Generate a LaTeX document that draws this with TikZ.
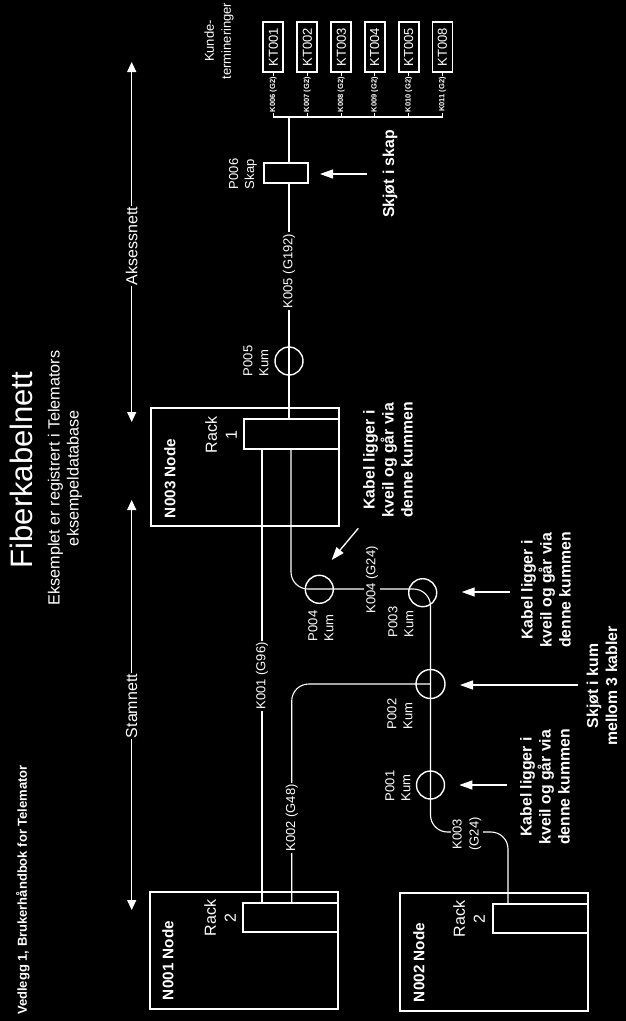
\documentclass[tikz,border=0pt]{standalone}
\usepackage{fontspec}
\usepackage{graphicx}
\setmainfont{Liberation Sans}
\usetikzlibrary{arrows.meta}
\newcommand{\myfs}[2]{\fontsize{#1pt}{#2pt}\selectfont}
\begin{document}
\begin{tikzpicture}[x=1pt,y=-1pt,
  every node/.style={text=white,inner sep=0pt,outer sep=0pt},
  rt/.style={rotate=90},
  nbox/.style={draw=white,line width=1.8pt,minimum width=188pt,minimum height=118pt},
  rbox/.style={draw=white,line width=1.5pt,minimum width=95pt,minimum height=29pt},
  ktbox/.style={draw=white,line width=1.8pt,minimum width=20pt,minimum height=50pt,font=\myfs{13}{15}},
  kum/.style={draw=white,circle,line width=1.4pt,minimum size=28pt},
  cable/.style={draw=white,line width=1.1pt},
  trunk/.style={draw=white,line width=1.7pt},
  arr/.style={draw=white,line width=1.3pt,-{Triangle[length=13pt,width=9pt]}},
  darr/.style={draw=white,line width=1.3pt,-{Triangle[length=10pt,width=9pt]}},
  clbl/.style={rotate=90,fill=black,inner sep=1.5pt,font=\myfs{13}{15}},
  klbl/.style={rotate=90,fill=black,inner sep=0.8pt,font=\bfseries\myfs{7.5}{9}},
  plbl/.style={rotate=90,anchor=west,align=left,font=\myfs{13}{16}},
  ann/.style={rotate=90,align=center,font=\bfseries\myfs{15.8}{19}},
  nname/.style={rotate=90,anchor=west,font=\bfseries\myfs{15.3}{18}},
  racktxt/.style={rotate=90,align=center,font=\myfs{16}{20}},
]
\fill[black] (0,0) rectangle (626,1021);
\useasboundingbox (0,0) rectangle (626,1021);

% headings
\node[rt,font=\myfs{31}{36}] (title) at (21.5,470) {Fiberkabelnett};
\node[rt,align=center,font=\myfs{16.2}{19}] (sub) at (65,478) {Eksemplet er registrert i Telemators\\eksempeldatabase};
\node[rt,font=\bfseries\myfs{13}{15}] (vedlegg) at (23,890) {Vedlegg 1, Brukerhåndbok for Telemator};

% network sections
\node[rt,font=\myfs{16}{19},inner sep=1pt] (aks) at (131.7,246) {Aksessnett};
\coordinate (aksT) at (131.7,62);
\coordinate (aksB) at (131.7,422);
\draw[darr] (aks.east) -- (aksT);
\draw[darr] (aks.west) -- (aksB);
\node[rt,font=\myfs{16}{19},inner sep=1pt] (stam) at (131.7,706) {Stamnett};
\coordinate (stT) at (131.7,500);
\coordinate (stB) at (131.7,910);
\draw[darr] (stam.east) -- (stT);
\draw[darr] (stam.west) -- (stB);

% customer terminations
\node[rt,align=center,font=\myfs{13}{17}] (kunde) at (219,41) {Kunde-\\termineringer};
\node[ktbox] (kt1) at (273.3,47) {\rotatebox{90}{KT001}};
\node[ktbox] (kt2) at (307.3,47) {\rotatebox{90}{KT002}};
\node[ktbox] (kt3) at (341.3,47) {\rotatebox{90}{KT003}};
\node[ktbox] (kt4) at (374.7,47) {\rotatebox{90}{KT004}};
\node[ktbox] (kt5) at (408.7,47) {\rotatebox{90}{KT005}};
\node[ktbox] (kt6) at (442.5,47) {\rotatebox{90}{KT008}};
\coordinate (bus) at (289,117);
\draw[trunk] (kt1.south |- bus) -- (kt6.south |- bus);
\foreach \i/\k in {1/K006,2/K007,3/K008,4/K009,5/K010,6/K011}
  \draw[cable] (kt\i.south) -- node[klbl]{\k\ (G2)} (kt\i.south |- bus);

% P006 cabinet
\node[draw=white,line width=1.5pt,minimum width=44pt,minimum height=20pt] (p006) at (286,173) {};
\node[plbl] (p006t) at (243,189) {P006\\Skap};
\draw[trunk] (bus) -- (bus |- p006.north);

% node boxes
\node[nbox] (n003) at (245,467) {};
\node[rbox,minimum height=30pt] (rack1) at (291.5,434) {};
\node[nname] (n003t) at (170,518) {N003 Node};
\node[racktxt] (rack1t) at (221,435) {Rack\\1};

\node[nbox,minimum height=117pt] (n001) at (244,950.5) {};
\node[rbox] (rack2a) at (290.5,917.5) {};
\node[nname] (n001t) at (168,1000) {N001 Node};
\node[racktxt] (rack2at) at (220,918) {Rack\\2};

\node[nbox] (n002) at (494,952) {};
\node[rbox] (rack2b) at (540.5,918.5) {};
\node[nname] (n002t) at (419,1002) {N002 Node};
\node[racktxt] (rack2bt) at (469,919) {Rack\\2};

% manholes
\node[kum] (p005) at (289,361) {};
\node[plbl] (p005t) at (256,376) {P005\\Kum};
\node[kum] (p004) at (319.3,589.3) {};
\node[plbl] (p004t) at (321,641) {P004\\Kum};
\node[kum] (p003) at (422.7,592.7) {};
\node[plbl] (p003t) at (401,637) {P003\\Kum};
\node[kum,minimum size=29pt] (p002) at (430.5,684) {};
\node[plbl] (p002t) at (400,729) {P002\\Kum};
\node[kum] (p001) at (430.5,785) {};
\node[plbl] (p001t) at (398,801) {P001\\Kum};

% cables
\draw[trunk] (bus |- p006.south) -- node[pos=0.373,clbl]{K005 (G192)} (bus |- rack1.north);
\coordinate (k1x) at (262,0);
\draw[cable] (rack1.south -| k1x) -- node[clbl]{K001 (G96)} (rack2a.north -| k1x);
\coordinate (k2x) at (291.7,0);
\draw[cable,rounded corners=17pt] (rack2a.north -| k2x) |- (p002.center);
\node[clbl] (k002t) at (291.7,818) {K002 (G48)};
\coordinate (cA) at (291,589);
\coordinate (cB) at (430.5,589);
\coordinate (cC) at (508,832);
\draw[cable,rounded corners=17pt] (rack1.south -| cA) |- (cB) -- (cB |- cC) -- (cC) -- (rack2b.north -| cC);
\node[clbl] (k004t) at (372,580) {K004 (G24)};
\node[clbl,align=center,font=\myfs{13}{17}] (k003t) at (467,834) {K003\\(G24)};

% annotations
\node[ann] (ann6) at (390,174) {Skjøt i skap};
\coordinate (a6s) at (367,174); \coordinate (a6e) at (320,174);
\draw[arr] (a6s) -- (a6e);
\node[ann] (ann4) at (388,460) {Kabel ligger i\\kveil og går via\\denne kummen};
\coordinate (a4s) at (358.3,528.3); \coordinate (a4e) at (331.7,560);
\draw[arr] (a4s) -- (a4e);
\node[ann] (ann3) at (546,590) {Kabel ligger i\\kveil og går via\\denne kummen};
\coordinate (a3s) at (510,592); \coordinate (a3e) at (461.7,592);
\draw[arr] (a3s) -- (a3e);
\node[ann] (ann2) at (602,686) {Skjøt i kum\\mellom 3 kabler};
\coordinate (a2s) at (578,685); \coordinate (a2e) at (460,685);
\draw[arr] (a2s) -- (a2e);
\node[ann] (ann1) at (545,787) {Kabel ligger i\\kveil og går via\\denne kummen};
\coordinate (a1s) at (506.7,785); \coordinate (a1e) at (459.3,785);
\draw[arr] (a1s) -- (a1e);
\end{tikzpicture}
\end{document}
